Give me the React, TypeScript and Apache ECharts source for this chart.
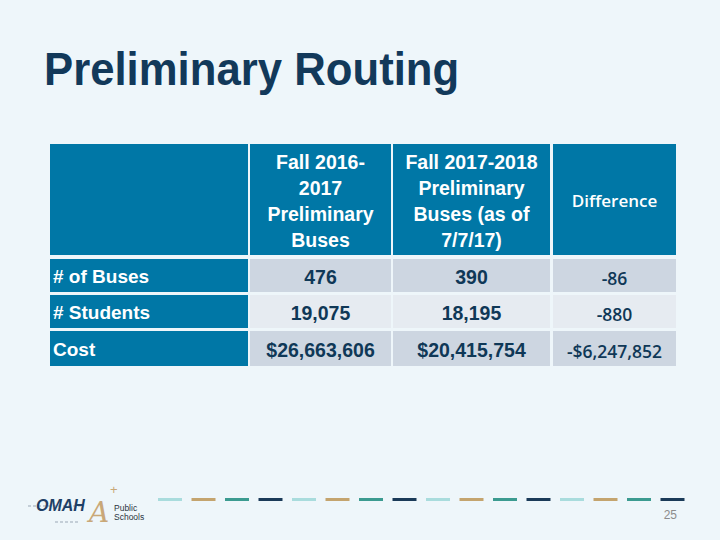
import React, { useEffect, useRef } from "react";
import * as echarts from "echarts";

const titleText = "Preliminary Routing";
const columnHeaders = [
  ["Fall 2016-", "2017", "Preliminary", "Buses"],
  ["Fall 2017-2018", "Preliminary", "Buses (as of", "7/7/17)"],
  ["Difference"],
];
const rowLabels = ["# of Buses", "# Students", "Cost"];
const fall2016 = [476, 19075, 26663606];
const fall2017 = [390, 18195, 20415754];
const difference = [-86, -880, -6247852];
const isMoney = [false, false, true];
const pageNumber = "25";
const dashColors = ["#A9DCDD", "#C4A46E", "#3B9B90", "#1A3A58"];

function fmt(v: number, money: boolean): string {
  const s = Math.abs(v).toLocaleString("en-US");
  return (v < 0 ? "-" : "") + (money ? "$" : "") + s;
}

export default function App() {
  const ref = useRef<HTMLDivElement>(null);
  useEffect(() => {
    if (!ref.current) return;
    const chart = echarts.init(ref.current, null, { renderer: "svg" });

    const colX = [
      [50, 248],
      [250, 391],
      [393, 550],
      [553, 676],
    ];
    const headerY = [144, 255];
    const rowY = [
      [259, 292],
      [295, 328],
      [331, 366],
    ];
    const blue = "#0077A6";
    const rowFill = ["#CDD6E1", "#E6EBF1", "#CDD6E1"];
    const navy = "#0F3857";

    const els: any[] = [];
    els.push({
      type: "rect",
      shape: { x: 0, y: 0, width: 720, height: 540 },
      style: { fill: "#EEF6FA" },
      z: 0,
    });
    els.push({
      type: "text",
      x: 44,
      y: 69,
      scaleX: 0.93,
      style: {
        text: titleText,
        fontFamily: "Liberation Sans, Arial, sans-serif",
        fontWeight: "bold",
        fontSize: 47,
        fill: "#12395A",
        verticalAlign: "middle",
      },
      z: 2,
    });
    // header cells
    colX.forEach((c) => {
      els.push({
        type: "rect",
        shape: { x: c[0], y: headerY[0], width: c[1] - c[0], height: headerY[1] - headerY[0] },
        style: { fill: blue },
        z: 1,
      });
    });
    columnHeaders.forEach((lines, i) => {
      const c = colX[i + 1];
      const isCal = i === 2;
      els.push({
        type: "text",
        x: (c[0] + c[1]) / 2,
        y: (headerY[0] + headerY[1]) / 2 + 1,
        style: {
          text: lines.join("\n"),
          fontFamily: isCal ? "Open Sans, sans-serif" : "Liberation Sans, Arial, sans-serif",
          fontWeight: isCal ? 600 : "bold",
          fontSize: isCal ? 17 : 19.5,
          lineHeight: 26,
          fill: "#FFFFFF",
          align: "center",
          verticalAlign: "middle",
        },
        z: 2,
      });
    });
    // rows
    rowLabels.forEach((lab, r) => {
      const y0 = rowY[r][0];
      const y1 = rowY[r][1];
      const cy = (y0 + y1) / 2 + 1;
      els.push({
        type: "rect",
        shape: { x: colX[0][0], y: y0, width: colX[0][1] - colX[0][0], height: y1 - y0 },
        style: { fill: blue },
        z: 1,
      });
      els.push({
        type: "text",
        x: 53,
        y: cy,
        style: {
          text: lab,
          fontFamily: "Liberation Sans, Arial, sans-serif",
          fontWeight: "bold",
          fontSize: 19,
          fill: "#FFFFFF",
          verticalAlign: "middle",
        },
        z: 2,
      });
      const vals = [fall2016[r], fall2017[r], difference[r]];
      vals.forEach((v, k) => {
        const c = colX[k + 1];
        const isCal = k === 2;
        els.push({
          type: "rect",
          shape: { x: c[0], y: y0, width: c[1] - c[0], height: y1 - y0 },
          style: { fill: rowFill[r] },
          z: 1,
        });
        els.push({
          type: "text",
          x: (c[0] + c[1]) / 2,
          y: cy + (isCal ? 1 : 0),
          style: {
            text: fmt(v, isMoney[r]),
            fontFamily: isCal ? "Open Sans, sans-serif" : "Liberation Sans, Arial, sans-serif",
            fontWeight: isCal ? 600 : "bold",
            fontSize: isCal ? 17.5 : 19.5,
            fill: navy,
            align: "center",
            verticalAlign: "middle",
          },
          z: 2,
        });
      });
    });
    // dashes
    for (let i = 0; i < 16; i++) {
      const x = 158 + i * 33.5;
      els.push({
        type: "line",
        shape: { x1: x, y1: 499.5, x2: x + 24, y2: 499.5 },
        style: { stroke: dashColors[i % 4], lineWidth: 3 },
        z: 2,
      });
    }
    // page number
    els.push({
      type: "text",
      x: 677,
      y: 515,
      style: {
        text: pageNumber,
        fontFamily: "Liberation Sans, Arial, sans-serif",
        fontSize: 12,
        fill: "#8C8C8C",
        align: "right",
        verticalAlign: "middle",
      },
      z: 2,
    });
    // logo
    els.push({
      type: "line",
      shape: { x1: 28, y1: 506, x2: 82, y2: 506 },
      style: { stroke: "#9AA7B5", lineWidth: 1, lineDash: [3, 2] },
      z: 2,
    });
    els.push({
      type: "line",
      shape: { x1: 55, y1: 522, x2: 80, y2: 522 },
      style: { stroke: "#9AA7B5", lineWidth: 1, lineDash: [3, 2] },
      z: 2,
    });
    els.push({
      type: "text",
      x: 36,
      y: 505,
      style: {
        text: "OMAH",
        fontFamily: "Liberation Sans, Arial, sans-serif",
        fontWeight: "bold",
        fontStyle: "italic",
        fontSize: 16,
        fill: "#1E3F66",
        verticalAlign: "middle",
      },
      z: 3,
    });
    els.push({
      type: "text",
      x: 89,
      y: 512,
      style: {
        text: "A",
        fontFamily: "DejaVu Serif, serif",
        fontStyle: "italic",
        fontSize: 28,
        fill: "#C9A878",
        verticalAlign: "middle",
      },
      z: 3,
    });
    els.push({
      type: "text",
      x: 110,
      y: 489,
      style: {
        text: "+",
        fontFamily: "Liberation Sans, Arial, sans-serif",
        fontSize: 13,
        fill: "#C9A878",
        verticalAlign: "middle",
      },
      z: 3,
    });
    els.push({
      type: "text",
      x: 114,
      y: 512,
      style: {
        text: "Public\nSchools",
        fontFamily: "Liberation Sans, Arial, sans-serif",
        fontSize: 8.5,
        lineHeight: 9,
        fill: "#2A3440",
        verticalAlign: "middle",
      },
      z: 3,
    });

    chart.setOption({
      animation: false,
      graphic: { elements: els },
    });
    return () => chart.dispose();
  }, []);
  return <div ref={ref} style={{ width: 720, height: 540, position: "absolute", left: 0, top: 0 }} />;
}
